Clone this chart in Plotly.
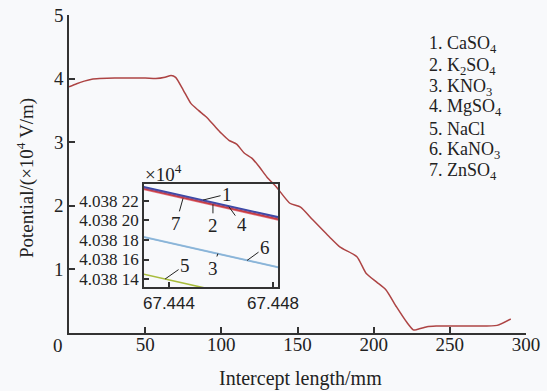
import numpy as np
import plotly.graph_objects as go

# Main curve
intercept_mm = [0, 5, 10, 15, 20, 30, 40, 50, 57, 63, 67, 70, 75, 80, 85, 90, 95, 100, 105, 110,
                115, 120, 125, 130, 136, 145, 152, 160, 171, 178, 189, 195, 202, 208, 215,
                222, 226, 228, 235, 241, 263, 281, 290]
potential = [3.87, 3.92, 3.96, 3.99, 4.00, 4.01, 4.01, 4.01, 4.00, 4.02, 4.05, 4.02, 3.82, 3.61,
             3.50, 3.40, 3.27, 3.14, 3.03, 2.97, 2.83, 2.75, 2.61, 2.45, 2.30, 2.04, 1.98,
             1.78, 1.51, 1.35, 1.20, 0.94, 0.80, 0.68, 0.41, 0.16, 0.05, 0.05, 0.10, 0.11,
             0.11, 0.12, 0.22]

# Inset (zoomed) lines, values in units of 10^4 V/m
inset_x = [67.4430, 67.4482]
salts = ["1", "2", "3", "4", "5", "6", "7"]
salt_names = ["CaSO<sub>4</sub>", "K<sub>2</sub>SO<sub>4</sub>", "KNO<sub>3</sub>",
              "MgSO<sub>4</sub>", "NaCl", "KaNO<sub>3</sub>", "ZnSO<sub>4</sub>"]
inset_y = {
    "1": [4.0382344, 4.0382034],
    "4": [4.0382336, 4.0382026],
    "2": [4.0382324, 4.0382012],
    "7": [4.0382316, 4.0382004],
    "3": [4.0381833, 4.0381523],
    "6": [4.0381829, 4.0381519],
    "5": [4.0381452, 4.0381142],
}
inset_colors = {"1": "#3a4aa8", "4": "#7a4a90", "2": "#c83c3c", "7": "#e07080",
                "3": "#9cc2e0", "6": "#8ab4d8", "5": "#a8bc3c"}
inset_xticks = [67.444, 67.448]
inset_yticks = [4.03814, 4.03816, 4.03818, 4.03820, 4.03822]
inset_yticktext = ["4.038 14", "4.038 16", "4.038 18", "4.038 20", "4.038 22"]

main_xticks = [50, 100, 150, 200, 250, 300]
main_yticks = [1, 2, 3, 4, 5]

SERIF = "Liberation Serif"
W, H = 547, 391
BG = "#f8f9fb"

fig = go.Figure()
fig.add_trace(go.Scatter(x=intercept_mm, y=potential, mode="lines",
                         line=dict(color="#ad4444", width=1.5, shape="spline", smoothing=0.6),
                         xaxis="x", yaxis="y", showlegend=False, hoverinfo="skip"))

for k in ["3", "6", "5", "7", "2", "4", "1"]:
    fig.add_trace(go.Scatter(x=inset_x, y=inset_y[k], mode="lines",
                             line=dict(color=inset_colors[k], width=1.6),
                             xaxis="x2", yaxis="y2", showlegend=False, hoverinfo="skip"))

axis_col = "#333333"
fig.update_layout(
    width=W, height=H,
    margin=dict(l=0, r=0, t=0, b=0, autoexpand=False),
    paper_bgcolor=BG, plot_bgcolor="rgba(0,0,0,0)",
    font=dict(family=SERIF, size=19, color="#222222"),
    xaxis=dict(domain=[69 / W, 526 / W], range=[0, 300], tickvals=main_xticks,
               showline=True, linecolor=axis_col, linewidth=1.5, ticks="inside",
               ticklen=6, tickcolor=axis_col, tickwidth=1.5, showgrid=False,
               zeroline=False, anchor="y", automargin=False, ticklabelstandoff=-7,
               tickfont=dict(size=19, family=SERIF)),
    yaxis=dict(domain=[(H - 333) / H, (H - 15) / H], range=[0, 5], tickvals=main_yticks,
               showline=True, linecolor=axis_col, linewidth=1.5, ticks="inside",
               ticklen=6, tickcolor=axis_col, tickwidth=1.5, showgrid=False,
               zeroline=False, anchor="x", automargin=False,
               tickfont=dict(size=19, family=SERIF)),
    xaxis2=dict(domain=[144 / W, 278 / W], range=[67.44304, 67.44819], tickvals=inset_xticks,
                ticktext=["67.444", "67.448"],
                showline=True, mirror=True, linecolor=axis_col, linewidth=1.5,
                ticks="inside", ticklen=5, tickcolor=axis_col, tickwidth=1.5,
                showgrid=False, zeroline=False, anchor="y2", automargin=False,
                tickfont=dict(size=17, family="Liberation Sans")),
    yaxis2=dict(domain=[(H - 287) / H, (H - 184) / H], range=[4.038132, 4.038237],
                tickvals=inset_yticks, ticktext=inset_yticktext,
                showline=True, mirror=True, linecolor=axis_col, linewidth=1.5,
                ticks="inside", ticklen=5, tickcolor=axis_col, tickwidth=1.5,
                showgrid=False, zeroline=False, anchor="x2", automargin=False,
                tickfont=dict(size=17, family=SERIF)),
)

# Inset background box (opaque) behind inset lines
fig.add_shape(type="rect", xref="x2 domain", yref="y2 domain", x0=0, x1=1, y0=0, y1=1,
              fillcolor=BG, line=dict(width=0), layer="below")

ann = []
# origin label
ann.append(dict(x=0, y=0, xref="x", yref="y", text="0", showarrow=False,
                xanchor="center", yanchor="middle",
                xshift=-11, yshift=-12, font=dict(size=19, family=SERIF)))
# axis titles
ann.append(dict(x=26 / W, y=(H - 178) / H, xref="paper", yref="paper",
                xanchor="center", yanchor="middle",
                text="Potential/(×10<sup>4</sup> V/m)", textangle=-90, showarrow=False,
                font=dict(size=19, family=SERIF)))
ann.append(dict(x=300 / W, y=(H - 378) / H, xref="paper", yref="paper",
                xanchor="center", yanchor="middle",
                text="Intercept length/mm", showarrow=False,
                font=dict(size=20, family=SERIF)))
# inset multiplier
ann.append(dict(x=143 / W, y=(H - 173) / H, xref="paper", yref="paper", xanchor="left",
                yanchor="middle",
                text="×10<sup>4</sup>", showarrow=False, font=dict(size=19, family=SERIF)))
# legend text, one line each
legend_y = [45, 66, 87, 108, 129, 150, 171]
for s, n, yy in zip(salts, salt_names, legend_y):
    ann.append(dict(x=427 / W, y=(H - yy) / H, xref="paper", yref="paper", xanchor="left",
                    yanchor="middle", align="left", text=f"{s}. {n}", showarrow=False,
                    font=dict(size=18, family=SERIF)))

# leader labels in inset: (label, series, x position, ax, ay)
leaders = [("1", "1", 67.44531, 24, -6), ("7", "7", 67.44454, -7, 25),
           ("2", "2", 67.44569, 0, 21), ("4", "4", 67.44630, 13, 18),
           ("6", "6", 67.44700, 18, -13), ("3", "3", 67.44588, -5, 15),
           ("5", "5", 67.44385, 20, -14)]
for lab, key, xa, ax, ay in leaders:
    ya = float(np.interp(xa, inset_x, inset_y[key]))
    ann.append(dict(x=xa, y=ya, xref="x2", yref="y2", text=lab, showarrow=True,
                    arrowhead=0, arrowwidth=1, arrowcolor="#222222", ax=ax, ay=ay,
                    font=dict(size=19, family=SERIF)))

fig.update_layout(annotations=ann)
fig.write_html("out.html", config={"displayModeBar": False},
               post_script="document.body.style.margin='0';document.body.style.background='%s';" % BG)
